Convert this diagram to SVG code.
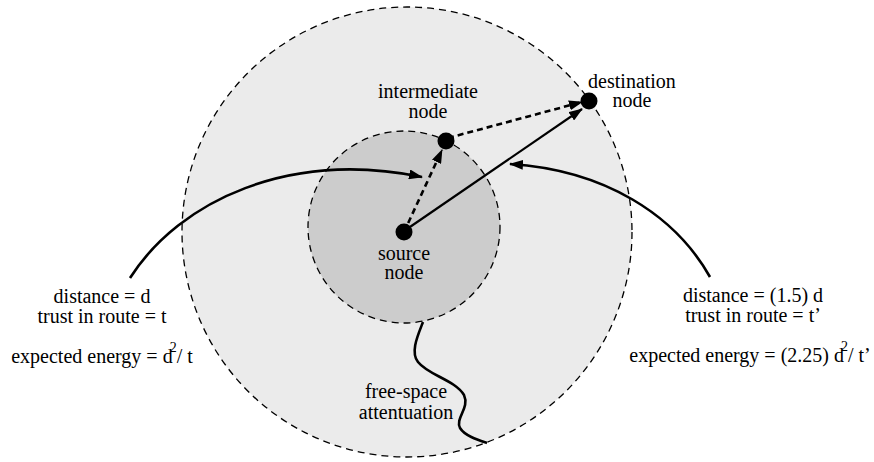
<svg xmlns="http://www.w3.org/2000/svg" width="874" height="462" viewBox="0 0 874 462">
<style>
text{font-family:'Liberation Serif',Tinos,'Times New Roman','DejaVu Serif',serif;font-size:20px;fill:#000;text-anchor:middle}
.ring{stroke:#000;stroke-width:1.3;stroke-dasharray:7 5}
.dot{fill:#000}
.dash{fill:none;stroke:#000;stroke-width:2.6;stroke-dasharray:6 4;marker-end:url(#ah)}
.solid{fill:none;stroke:#000;stroke-width:2.2;marker-end:url(#ah)}
.curve{fill:none;stroke:#000;stroke-width:2.6;marker-end:url(#ah)}
.wave{fill:none;stroke:#000;stroke-width:2.6}
</style>
<defs>
<marker id="ah" viewBox="0 0 14 10" refX="13" refY="5" markerWidth="14" markerHeight="10" markerUnits="userSpaceOnUse" orient="auto">
<path d="M0,0 L14,5 L0,10 Z" fill="#000"/>
</marker>
</defs>
<g id="outer-range">
<circle cx="407" cy="232" r="225" fill="#ebebeb" class="ring"/>
</g>
<g id="inner-range">
<circle cx="404" cy="227" r="96" fill="#cccccc" class="ring"/>
</g>
<g id="connectors">
<path class="dash" d="M404,232 L442,150"/>
<path class="dash" d="M448,138 L582,102"/>
<path class="solid" d="M407,229 L582,109"/>
<path class="curve" d="M130,278 C180,200 290,150 422,177"/>
<path class="curve" d="M710,277 C675,215 605,170 510,164"/>
<path class="wave" d="M423,322 C418,335 410,352 418,362 C428,375 455,380 464,395 C470,408 455,418 460,428 C465,436 478,440 487,443"/>
</g>
<g id="source-node" font-family="Liberation Serif, serif">
<circle class="dot" cx="404" cy="232" r="8.5"/>
<text x="404" y="260">source</text>
<text x="404" y="279">node</text>
</g>
<g id="intermediate-node" font-family="Liberation Serif, serif">
<circle class="dot" cx="446" cy="141" r="8.5"/>
<text x="428" y="98">intermediate</text>
<text x="428" y="118">node</text>
</g>
<g id="destination-node" font-family="Liberation Serif, serif">
<circle class="dot" cx="589" cy="101" r="8.5"/>
<text x="632" y="88">destination</text>
<text x="632" y="107">node</text>
</g>
<g id="left-label" font-family="Liberation Serif, serif">
<text x="102" y="303">distance = d</text>
<text x="102" y="323">trust in route = t</text>
<text x="102" y="363">expected energy = d<tspan dx="-3" dy="-11" font-size="14">2</tspan><tspan dy="11">/ t</tspan></text>
</g>
<g id="right-label" font-family="Liberation Serif, serif">
<text x="753" y="302">distance = (1.5) d</text>
<text x="753" y="322">trust in route = t’</text>
<text x="750" y="362">expected energy = (2.25) d<tspan dx="-3" dy="-11" font-size="14">2</tspan><tspan dy="11">/ t’</tspan></text>
</g>
<g id="attenuation-label" font-family="Liberation Serif, serif">
<text x="406" y="398">free-space</text>
<text x="406" y="419">attentuation</text>
</g>
</svg>
